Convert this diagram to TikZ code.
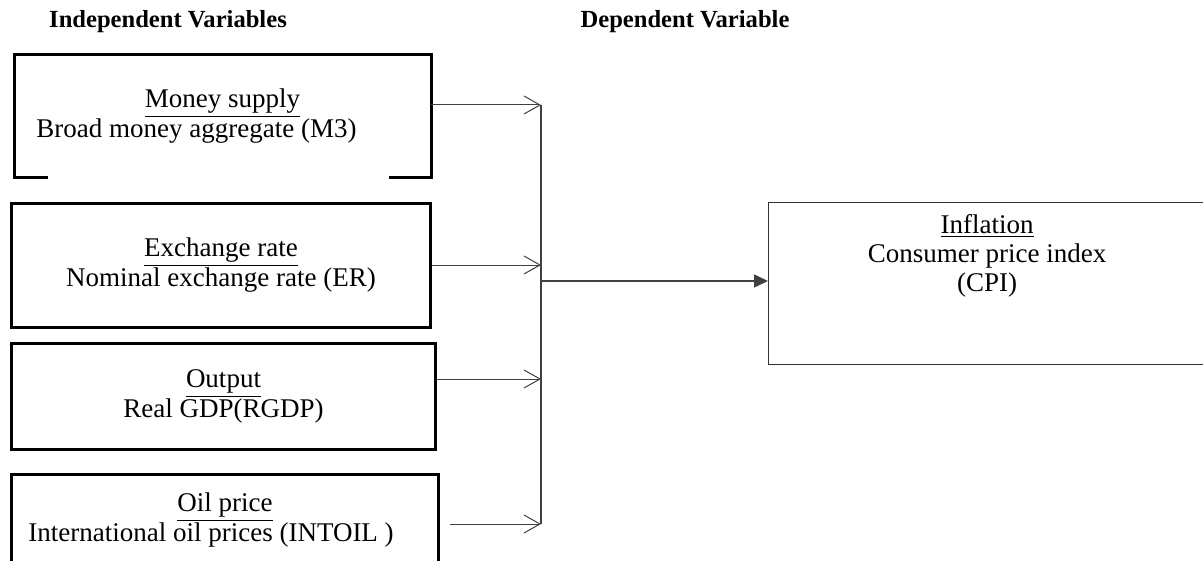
\documentclass[tikz,border=0pt]{standalone}
\usepackage{fontspec}
\setmainfont{Liberation Serif}
\usetikzlibrary{arrows.meta}

\tikzset{
    varbox/.style={draw=black,line width=1.5pt,anchor=north west,align=center,inner sep=0pt,
        font=\fontsize{13.5}{15}\selectfont},
    headtxt/.style={font=\bfseries\fontsize{12.3}{14}\selectfont},
    feed/.style={draw=black!75,line width=0.5pt,-{Straight Barb[length=8pt,width=9pt]}},
    bus/.style={draw=black!75,line width=0.75pt},
}

\begin{document}
\begin{tikzpicture}[x=0.5pt,y=-0.5pt]
    \useasboundingbox (0,0) rectangle (1203,561);
    \clip (0,0) rectangle (1203,561);

    %%%%%%%% Headings %%%%%%%%
    \node[headtxt] (hindep) at (168,22) {Independent Variables};
    \node[headtxt] (hdep) at (685,22) {Dependent Variable};

    %%%%%%%% Box 1 %%%%%%%%
    \node[varbox,draw=none,minimum width=207pt,minimum height=60pt] (money) at (14,55)
        {\underline{Money supply}\\ Broad money aggregate (M3)\hspace*{26pt}};
    \draw[line width=1.5pt] ([xshift=17pt]money.south west) -- (money.south west)
        -- (money.north west) -- (money.north east) -- (money.south east)
        -- ([xshift=-21pt]money.south east);

    %%%%%%%% Box 2 %%%%%%%%
    \node[varbox,minimum width=209.5pt,minimum height=62pt] (exch) at (10,202)
        {\underline{Exchange rate}\\ Nominal exchange rate (ER)};

    %%%%%%%% Box 3 %%%%%%%%
    \node[varbox,minimum width=212pt,minimum height=53pt] (outp) at (10,342)
        {\underline{Output}\\ Real GDP(RGDP)};

    %%%%%%%% Box 4 %%%%%%%%
    \node[varbox,minimum width=213.5pt,minimum height=46pt] (oil) at (10,473)
        {\underline{Oil price}\\ International oil prices (INTOIL )\hspace*{14pt}};

    %%%%%%%% Dependent box %%%%%%%%
    \node[draw=black!80,line width=0.7pt,anchor=north west,minimum width=221pt,minimum height=81pt]
        (infl) at (768,202) {};
    \node[align=center,font=\fontsize{13.5}{14.5}\selectfont] (infltxt) at (987,256)
        {\underline{Inflation}\\ Consumer price index\\ (CPI)};

    %%%%%%%% Arrows %%%%%%%%
    \coordinate (t1) at (541,105);
    \coordinate (t2) at (541,265);
    \coordinate (t3) at (541,379);
    \coordinate (t4) at (541,524);
    \coordinate (jn) at (541,281);
    \draw[feed] (money.east |- t1) -- (t1);
    \draw[feed] (exch.east |- t2) -- (t2);
    \draw[feed] (outp.east |- t3) -- (t3);
    \draw[feed] ([xshift=5pt]oil.east |- t4) -- (t4);
    \draw[bus] (t1) -- (t4);
    \draw[bus,-{Triangle[length=7pt,width=6.5pt]}] (jn) -- (jn -| infl.west);
\end{tikzpicture}
\end{document}
